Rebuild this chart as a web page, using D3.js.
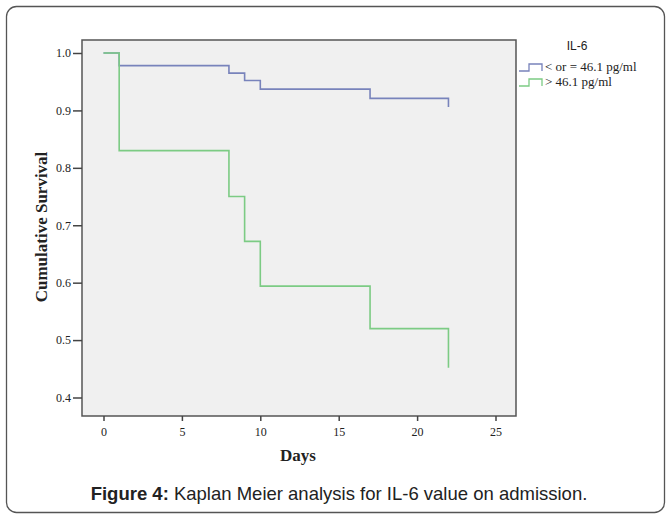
<!DOCTYPE html>
<html>
<head>
<meta charset="utf-8">
<script src="https://cdn.jsdelivr.net/npm/d3@7"></script>
<style>
  body { margin: 0; background: #fff; }
  svg text { fill: #222; }
</style>
</head>
<body>
<div id="chart"></div>
<script>
// Kaplan Meier step data (day, cumulative survival)
const lowDays = [0, 1, 8, 9, 10, 17, 22, 22];
const lowSurv = [1.0, 0.978, 0.965, 0.952, 0.937, 0.921, 0.921, 0.906];
const highDays = [0, 1, 8, 9, 10, 17, 22, 22];
const highSurv = [1.0, 0.830, 0.750, 0.672, 0.594, 0.520, 0.520, 0.452];
const seriesNames = ["< or = 46.1 pg/ml", "> 46.1 pg/ml"];
const seriesColors = ["#7883bb", "#7ccb84"];
const xTicks = [0, 5, 10, 15, 20, 25];
const yTicks = [0.4, 0.5, 0.6, 0.7, 0.8, 0.9, 1.0];

const W = 669, H = 517;
const frame = {left: 82, right: 516, top: 40, bottom: 416};

const svg = d3.select('#chart').append('svg')
    .attr('width', W)
    .attr('height', H);

// outer rounded border
svg.append('rect')
    .attr('x', 6.5).attr('y', 6.5)
    .attr('width', 658).attr('height', 506)
    .attr('rx', 10)
    .attr('fill', '#fff')
    .attr('stroke', '#555')
    .attr('stroke-width', 1.3);

const x = d3.scaleLinear().domain([0, 25]).range([103.5, 495.5]);
const y = d3.scaleLinear().domain([0.4, 1.0]).range([397.5, 53]);

svg.append('rect')
    .attr('x', frame.left).attr('y', frame.top)
    .attr('width', frame.right - frame.left)
    .attr('height', frame.bottom - frame.top)
    .attr('fill', '#f0f0f0')
    .attr('stroke', '#555')
    .attr('stroke-width', 1.5);

// axes
const serif = '"Liberation Serif", "Times New Roman", serif';
const yAxis = svg.append('g')
    .attr('transform', `translate(${frame.left},0)`)
    .call(d3.axisLeft(y).tickValues(yTicks).tickFormat(d3.format('.1f')).tickSize(9).tickPadding(2));
yAxis.select('.domain').remove();
yAxis.selectAll('line').attr('stroke', '#444').attr('stroke-width', 1.5);
yAxis.selectAll('text').style('font-family', serif).style('font-size', '12px').attr('fill', '#222');

const xAxis = svg.append('g')
    .attr('transform', `translate(0,${frame.bottom})`)
    .call(d3.axisBottom(x).tickValues(xTicks).tickSize(5).tickPadding(6));
xAxis.select('.domain').remove();
xAxis.selectAll('line').attr('stroke', '#444').attr('stroke-width', 1.5);
xAxis.selectAll('text').style('font-family', serif).style('font-size', '12px').attr('fill', '#222');

// step lines
const line = d3.line()
    .x(d => x(d[0]))
    .y(d => y(d[1]))
    .curve(d3.curveStepAfter);

const series = [
  d3.zip(lowDays, lowSurv),
  d3.zip(highDays, highSurv)
];

svg.selectAll('.km')
  .data(series)
  .enter().append('path')
    .attr('class', 'km')
    .attr('d', line)
    .attr('fill', 'none')
    .attr('stroke', (d, i) => seriesColors[i])
    .attr('stroke-width', 1.6);

// axis titles
svg.append('text')
    .attr('x', 298).attr('y', 461)
    .attr('text-anchor', 'middle')
    .style('font-family', serif).style('font-size', '17px').style('font-weight', 'bold')
    .text('Days');

svg.append('text')
    .attr('transform', 'translate(47,227) rotate(-90)')
    .attr('text-anchor', 'middle')
    .style('font-family', serif).style('font-size', '17px').style('font-weight', 'bold')
    .text('Cumulative Survival');

// legend
svg.append('text')
    .attr('x', 577).attr('y', 50)
    .attr('text-anchor', 'middle')
    .style('font-family', '"Liberation Sans", Arial, sans-serif').style('font-size', '12px')
    .text('IL-6');

const legend = svg.selectAll('.leg')
  .data(seriesNames)
  .enter().append('g')
    .attr('class', 'leg')
    .attr('transform', (d, i) => `translate(519,${67 + i * 15})`);

legend.append('path')
    .attr('d', 'M0,4 H10 V-3 H23 V4')
    .attr('fill', 'none')
    .attr('stroke', (d, i) => seriesColors[i])
    .attr('stroke-width', 1.3);

legend.append('text')
    .attr('x', 26).attr('y', 4)
    .style('font-family', serif).style('font-size', '13px')
    .text(d => d);

// caption
const cap = svg.append('text')
    .attr('x', 339).attr('y', 500)
    .attr('text-anchor', 'middle')
    .style('font-family', '"Liberation Sans", Arial, sans-serif').style('font-size', '18.5px');
cap.append('tspan').style('font-weight', 'bold').text('Figure 4:');
cap.append('tspan').text(' Kaplan Meier analysis for IL-6 value on admission.');
</script>
</body>
</html>
